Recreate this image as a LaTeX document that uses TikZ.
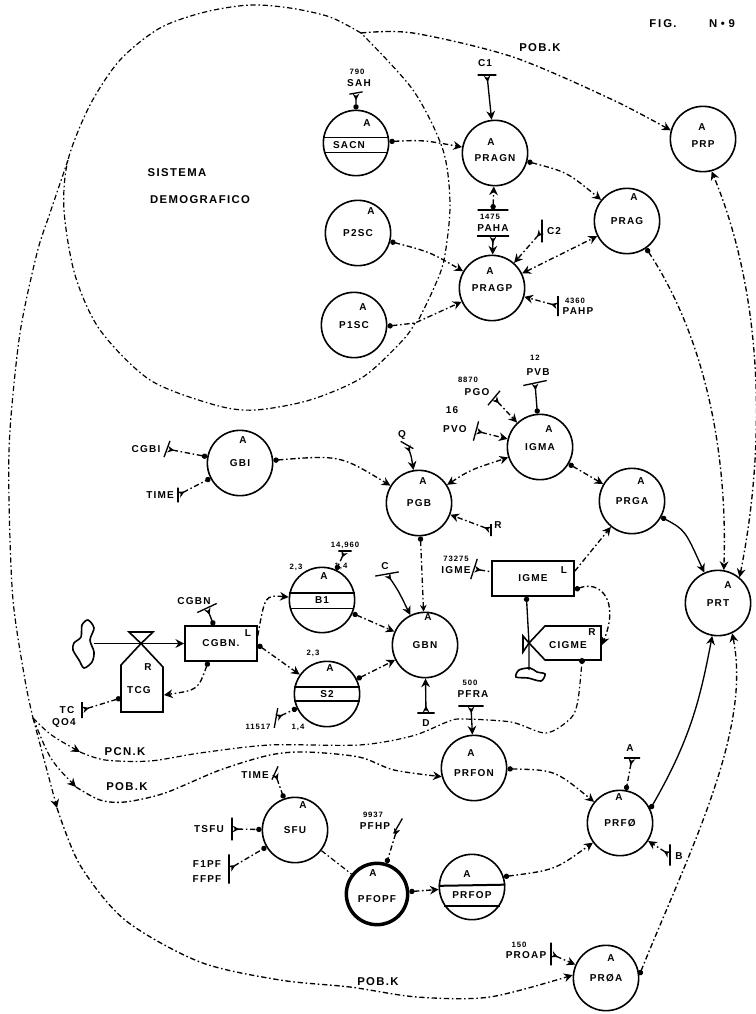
\documentclass[tikz,border=0pt]{standalone}
\usepackage{fontspec}
\setmainfont[LetterSpace=12]{Liberation Sans}
\usepackage{tikz}
\usetikzlibrary{arrows.meta}
\tikzset{
    var/.style={circle, draw, line width=1.2pt, minimum size=49pt, inner sep=0pt, font=\bfseries\fontsize{7.5}{9}\selectfont},
    low/.style={text height=13pt},
    lev/.style={rectangle, draw, line width=1.2pt, inner sep=0pt, font=\bfseries\fontsize{7.5}{9}\selectfont},
    txt/.style={inner sep=0pt, font=\bfseries\fontsize{7.5}{9}\selectfont},
    big/.style={inner sep=0pt, font=\bfseries\fontsize{8.5}{10}\selectfont},
    lbl/.style={inner sep=0pt, font=\bfseries\fontsize{7.5}{9}\selectfont},
    num/.style={inner sep=0pt, font=\bfseries\fontsize{5.8}{7}\selectfont},
    cbar/.style={draw, line width=1pt, minimum width=#1, minimum height=0pt, inner sep=0pt},
    sys/.style={line width=.9pt, dash pattern=on 4pt off 2pt on 1.2pt off 2pt},
    flow/.style={line width=1pt, dash pattern=on 4pt off 2pt on 1.2pt off 2pt, arrows={Circle[length=4pt]-Stealth[length=6.5pt,width=6.5pt]}},
    dflow/.style={flow, arrows={Stealth[length=6.5pt,width=6.5pt]-Stealth[length=6.5pt,width=6.5pt]}},
    cflow/.style={flow, arrows={Stealth[reversed,length=5pt,width=5pt]-Stealth[length=6.5pt,width=6.5pt]}},
    dflowend/.style={flow, arrows={Stealth[reversed,length=5pt,width=5pt]-Circle[length=4pt]}},
    sflow/.style={flow, solid},
    pipe/.style={line width=1.2pt}
}
\begin{document}
\begin{tikzpicture}[x=0.75pt, y=-0.75pt]
    \useasboundingbox (0,0) rectangle (756,1014);

    % Define nodes
    \node (fig) [big] at (663,24) {F\,I\,G.};
    \node (fign) [big] at (722,24) {N\,\,•\,\,9};
    \node (sis) [big] at (177,173) {SISTEMA};
    \node (dem) [big] at (200,200) {DEMOGRAFICO};

    \node (SACN) [var] at (356,143) {};
    \node (PRAGN) [var, low] at (495,153) {PRAGN};
    \node (PRP) [var, low] at (703,139) {PRP};
    \node (PRAG) [var] at (627,221) {PRAG};
    \node (P2SC) [var] at (358,233) {P2SC};
    \node (PRAGP) [var] at (492,288) {PRAGP};
    \node (P1SC) [var] at (354,325) {P1SC};
    \node (GBI) [var] at (240,463) {GBI};
    \node (PGB) [var] at (419,503) {PGB};
    \node (IGMA) [var] at (540,447) {IGMA};
    \node (PRGA) [var] at (632,501) {PRGA};
    \node (PRT) [var] at (718,603) {PRT};
    \node (GBN) [var] at (425,645) {GBN};
    \node (B1) [var] at (322,600) {B1};
    \node (S2) [var] at (327,694) {S2};
    \node (PRFON) [var, low] at (474,768) {PRFON};
    \node (SFU) [var] at (295,830) {SFU};
    \node (PFOPF) [var, line width=2.6pt, minimum size=46pt, low] at (377,894) {PFOPF};
    \node (PRFOP) [var] at (472,887) {};
    \node (PRFO) [var] at (620,823) {PRFØ};
    \node (PROA) [var] at (606,978) {PRØA};

    \node (aSACN) [txt] at (367,123) {A};
    \node (aPRAGN) [txt] at (491,142) {A};
    \node (aPRP) [txt] at (702,127) {A};
    \node (aPRAG) [txt] at (634,197) {A};
    \node (aP2SC) [txt] at (371,211) {A};
    \node (aPRAGP) [txt] at (490,271) {A};
    \node (aP1SC) [txt] at (363,307) {A};
    \node (aGBI) [txt] at (243,440) {A};
    \node (aPGB) [txt] at (423,481) {A};
    \node (aIGMA) [txt] at (549,429) {A};
    \node (aPRGA) [txt] at (641,481) {A};
    \node (aPRT) [txt] at (728,585) {A};
    \node (aGBN) [txt] at (428,617) {A};
    \node (aB1) [txt] at (324,576) {A};
    \node (aS2) [txt] at (330,668) {A};
    \node (aPRFON) [txt] at (471,753) {A};
    \node (aSFU) [txt] at (303,805) {A};
    \node (aPFOPF) [txt] at (373,873) {A};
    \node (aPRFOP) [txt] at (467,874) {A};
    \node (aPRFO) [txt] at (619,797) {A};
    \node (aPROA) [txt] at (611,958) {A};

    \node (tSACN) [txt] at (349,145) {SACN};
    \node (tPRFOP) [txt] at (472,895) {PRFOP};

    \node (CGBN) [lev, minimum width=54pt, minimum height=26pt] at (221,643.5) {CGBN.};
    \node (lCGBN) [txt] at (248,633) {L};
    \node (IGME) [lev, minimum width=61.5pt, minimum height=26pt] at (533,578.5) {IGME};
    \node (lIGME) [txt] at (564,570) {L};
    \node (TCG) [txt] at (139,690) {TCG};
    \node (rTCG) [txt] at (148,667) {R};
    \node (CIGME) [txt] at (568,645) {CIGME};
    \node (rCIGME) [txt] at (592,632) {R};

    % Constants
    \node (barC1) [cbar=14pt] at (487,75) {};
    \node (C1) [lbl] at (485,63) {C1};
    \node (barSAH) [cbar=10pt, rotate=10] at (356,93) {};
    \node (nSAH) [num] at (357,72) {790};
    \node (SAH) [lbl] at (359,83) {SAH};
    \node (barPAHAt) [cbar=23pt] at (493,210) {};
    \node (nPAHA) [num] at (490,217) {1475};
    \node (PAHA) [lbl] at (493,228) {PAHA};
    \node (barPAHAb) [cbar=24pt] at (493,236) {};
    \node (barC2) [cbar=17pt, rotate=90] at (542,231) {};
    \node (C2) [lbl] at (554,231) {C2};
    \node (barPAHP) [cbar=15pt, rotate=90] at (558,306) {};
    \node (nPAHP) [num] at (575,301) {4360};
    \node (PAHP) [lbl] at (578,311) {PAHP};
    \node (barCGBI) [cbar=13pt, rotate=70] at (167,449) {};
    \node (CGBI) [lbl] at (146,449) {CGBI};
    \node (barTIMEa) [cbar=11pt, rotate=90] at (178,495) {};
    \node (TIMEa) [lbl] at (160,495) {TIME};
    \node (barQ) [cbar=11pt, rotate=-30] at (407,445) {};
    \node (Q) [lbl] at (402,435) {Q};
    \node (barR) [cbar=9pt, rotate=90] at (491,530) {};
    \node (R) [lbl] at (498,525) {R};
    \node (barPGO) [cbar=14pt, rotate=50] at (494,398) {};
    \node (nPGO) [num] at (468,380) {8870};
    \node (PGO) [lbl] at (477,392) {PGO};
    \node (barPVO) [cbar=15pt, rotate=75] at (476,431) {};
    \node (nPVO) [lbl] at (452,410) {16};
    \node (PVO) [lbl] at (455,429) {PVO};
    \node (barPVB) [cbar=18pt, rotate=12] at (535,383) {};
    \node (nPVB) [num] at (535,358) {12};
    \node (PVB) [lbl] at (538,372) {PVB};
    \node (barIGME) [cbar=16pt, rotate=72] at (474,569) {};
    \node (nIGME) [num] at (456,559) {73275};
    \node (cIGME) [lbl] at (456,570) {IGME};
    \node (barC) [cbar=18pt, rotate=10] at (387,574) {};
    \node (C) [lbl] at (385,566) {C};
    \node (barD) [cbar=13pt] at (426,713) {};
    \node (D) [lbl] at (426,723) {D};
    \node (barB) [cbar=10pt] at (345,551) {};
    \node (nB1) [num] at (345,545) {14,960};
    \node (nB1b) [num] at (341,566) {1,4};
    \node (nB1a) [num] at (296,567) {2,3};
    \node (nS2a) [num] at (313,653) {2,3};
    \node (barS) [cbar=15pt, rotate=80] at (276,718) {};
    \node (nS2b) [num] at (258,727) {11517};
    \node (nS2c) [num] at (298,727) {1,4};
    \node (barCGBN) [cbar=16pt, rotate=25] at (207,608) {};
    \node (cCGBN) [lbl] at (194,601) {CGBN};
    \node (barTC) [cbar=12pt, rotate=90] at (82,710) {};
    \node (TC) [lbl] at (67,710) {TC};
    \node (QO4) [lbl] at (64,723) {QO4};
    \node (barPFRA) [cbar=19pt] at (471,706) {};
    \node (nPFRA) [num] at (470,683) {500};
    \node (PFRA) [lbl] at (473,694) {PFRA};
    \node (barTIMEb) [cbar=11pt, rotate=65] at (275,773) {};
    \node (TIMEb) [lbl] at (255,775) {TIME};
    \node (barTSFU) [cbar=17pt, rotate=90] at (232,829) {};
    \node (TSFU) [lbl] at (209,829) {TSFU};
    \node (barFP) [cbar=22pt, rotate=90] at (229,869) {};
    \node (FIPF) [lbl] at (207,864) {F1PF};
    \node (FFPF) [lbl] at (207,879) {FFPF};
    \node (barPFHP) [cbar=13pt, rotate=60] at (398,826) {};
    \node (nPFHP) [num] at (373,815) {9937};
    \node (PFHP) [lbl] at (375,826) {PFHP};
    \node (barA) [cbar=12pt] at (632,758) {};
    \node (cA) [lbl] at (630,748) {A};
    \node (barBB) [cbar=16pt, rotate=90] at (670,855) {};
    \node (cB) [lbl] at (679,856) {B};
    \node (barPROAP) [cbar=17pt, rotate=90] at (551,954) {};
    \node (nPROAP) [num] at (519,945) {150};
    \node (PROAP) [lbl] at (526,955) {PROAP};

    \node (pobTop) [big] at (540,48) {POB.K};
    \node (pcn) [big] at (125,752) {PCN.K};
    \node (pobLow) [big] at (127,787) {POB.K};
    \node (pobBot) [big] at (378,982) {POB.K};

    % Free ends
    \coordinate (sysR) at (361,33);
    \coordinate (sysL) at (68,160);
    \coordinate (sysK) at (415,323);
    \coordinate (sysT) at (419,319);
    \coordinate (junc) at (33,718);
    \coordinate (juncA) at (57,808);
    \coordinate (juncB) at (80,752);
    \coordinate (juncC) at (76,787);
    \coordinate (TCGr) at (164,695);
    \coordinate (TCGl) at (121,698);
    \coordinate (CIGMEr) at (602,645);
    \coordinate (CIGMEb) at (582,661);
    \coordinate (valveT) at (141,643.5);
    \coordinate (valveC) at (529,643);
    \coordinate (cloudT) at (94,643.5);
    \coordinate (cloudC) at (529,670);

    % Draw shapes
    \draw[pipe] (valveT) -- (121,665) -- (121,712) -- (163,712) -- (163,667) -- cycle;
    \draw[pipe] (valveT) -- (129,632) -- (153,632) -- cycle;
    \draw[pipe] (valveC) -- (545,626) -- (601,626) -- (601,660) -- (545,660) -- cycle;
    \draw[pipe] (valveC) -- (523,636) -- (523,652) -- cycle;
    \draw[pipe] plot[smooth cycle] coordinates {(88,620) (94,628) (90,640) (94,652) (92,662) (84,668) (79,660) (73,650) (74,643) (81,637) (82,625)};
    \draw[pipe] plot[smooth cycle] coordinates {(519,670) (530,668) (537,672) (545,674) (541,681) (528,678) (516,677)};
    \draw[line width=.9pt] (SACN.170) -- (SACN.10);
    \draw[line width=.9pt] (SACN.196) -- (SACN.344);
    \draw[line width=.9pt] (B1.168) -- (B1.12);
    \draw[line width=.9pt] (B1.195) -- (B1.345);
    \draw[line width=.9pt] (S2.168) -- (S2.12);
    \draw[line width=.9pt] (S2.192) -- (S2.348);
    \draw[line width=1.5pt] (PRFOP.178) -- (PRFOP.4);
    \draw[line width=1.2pt] (PRFOP.214) -- (PRFOP.326);

    % System boundary
    \draw[sys] plot[smooth] coordinates {(sysR) (330,17) (290,8) (250,5) (205,12) (160,28) (120,60) (90,105) (sysL) (64,210) (75,275) (100,330) (150,380) (215,405) (255,410) (310,400) (363,377) (403,340) (sysK)};
    \draw[sys] plot[smooth] coordinates {(sysT) (433,290) (444,260) (450,205) (443,150) (413,90) (sysR)};
    \draw[sys] plot[smooth] coordinates {(sysL) (50,213) (37,253) (20,333) (10,430) (9,500) (13,600) (25,680) (junc)};

    % Draw edges
    \draw[flow, arrows={-Stealth[length=6.5pt,width=6.5pt]}] plot[smooth] coordinates {(sysR) (413,33) (513,57) (613,100) (PRP.165)};
    \draw[sys, arrows={-Stealth[length=6.5pt,width=6.5pt]}] (junc) -- (juncA);
    \draw[flow, arrows={-Stealth[length=6.5pt,width=6.5pt]}] plot[smooth] coordinates {(juncA) (80,865) (125,920) (200,962) (280,980) (350,987) (417,997) (490,997) (PROA.175)};
    \draw[sys, arrows={-Stealth[length=6.5pt,width=6.5pt]}] (junc) .. controls (50,735) .. (juncB);
    \draw[sys] plot[smooth] coordinates {(juncB) (105,760) (150,761) (200,753) (270,745) (359,745) (412,736) (447,722) (461,719) (511,722) (546,733) (571,718) (578,700) (CIGMEb)};
    \fill (CIGMEb) circle (3);
    \draw[sys, arrows={-Stealth[length=6.5pt,width=6.5pt]}] (junc) .. controls (50,760) .. (juncC);
    \draw[flow, arrows={-Stealth[length=6.5pt,width=6.5pt]}] plot[smooth] coordinates {(juncC) (100,800) (125,802) (165,793) (220,770) (270,755) (306,752) (359,757) (394,770) (PRFON.195)};

    \draw[flow] (SACN) .. controls (423,140) .. (PRAGN);
    \draw[flow] (PRAGN) .. controls (567,172) .. (PRAG);
    \draw[flow] (P2SC) .. controls (430,252) .. (PRAGP);
    \draw[flow] (P1SC.-2) -- (sysK) -- (PRAGP);
    \draw[dflow] (PRAGP) .. controls (560,255) .. (PRAG);
    \draw[cflow, solid] (barC1) -- (PRAGN);
    \draw[dflowend] (barSAH) -- (SACN);
    \draw[flow] (barPAHAt) -- (PRAGN);
    \draw[cflow, solid] (barPAHAb) -- (PRAGP);
    \draw[cflow] (barC2) -- (PRAGP);
    \draw[cflow] (barPAHP) -- (PRAGP);
    \draw[flow] (PRAG.-55) .. controls (700,330) and (728,440) .. (PRT.80);
    \draw[dflow] (PRT.50) .. controls (765,450) and (765,300) .. (PRP.-75);

    \draw[dflowend] (barCGBI) -- (GBI);
    \draw[dflowend] (barTIMEa) -- (GBI);
    \draw[flow] (GBI) .. controls (340,455) .. (PGB);
    \draw[dflow] (PGB) .. controls (470,470) .. (IGMA);
    \draw[cflow, solid] (barQ) .. controls (411,455) .. (PGB);
    \draw[cflow] (barR) -- (PGB);
    \draw[cflow] (barPGO) -- (IGMA);
    \draw[cflow] (barPVO) -- (IGMA);
    \draw[dflowend, solid] (barPVB) -- (IGMA);
    \draw[flow] (IGMA) -- (PRGA);
    \draw[cflow, arrows={-Stealth[length=6.5pt,width=6.5pt]}] (IGME.10) -- (PRGA);
    \draw[flow, solid] (PRGA) .. controls (685,530) .. (PRT);
    \draw[cflow, arrows={Stealth[reversed,length=5pt,width=5pt]-}] (barIGME) -- (IGME);
    \draw[flow] (IGME.-15) .. controls (600,580) and (620,600) .. (CIGMEr);
    \draw[flow, solid, arrows={Circle[length=4pt]-}] (IGME.-110) -- (valveC) -- (cloudC);
    \draw[flow, arrows={Stealth[length=5pt,width=5pt]-Circle[length=4pt]}] (GBN) -- (PGB);
    \draw[cflow, solid] (barC) .. controls (398,590) .. (GBN);
    \draw[flow] (B1) -- (GBN);
    \draw[flow] (S2) -- (GBN);
    \draw[cflow, solid] (barD) -- (GBN);
    \draw[flow, arrows={-Stealth[length=6.5pt,width=6.5pt]}] (CGBN.12) .. controls (265,595) .. (B1);
    \draw[flow] (CGBN.-2) -- (S2);
    \draw[dflowend] (barB) -- (B1);
    \draw[dflowend] (barS) -- (S2);
    \draw[dflowend, solid] (barCGBN) -- (CGBN);
    \draw[flow, solid, arrows={-Stealth[length=6.5pt,width=6.5pt]}] (cloudT) -- (CGBN.west);
    \draw[flow] (CGBN.-125) .. controls (198,690) .. (TCGr);
    \draw[flow, arrows={Circle[length=4pt]-Stealth[reversed,length=5pt,width=5pt]}] (TCGl) -- (barTC);

    \draw[cflow, solid] (barPFRA) -- (PRFON);
    \draw[flow] (PRFON) .. controls (555,770) .. (PRFO);
    \draw[flow] (PRFOP.18) .. controls (555,870) .. (PRFO);
    \draw[flow] (PFOPF) -- (PRFOP);
    \draw[sys] (SFU) -- (PFOPF);
    \draw[dflowend] (barTIMEb) -- (SFU);
    \draw[dflowend] (barTSFU) -- (SFU);
    \draw[dflowend] (barFP) -- (SFU);
    \draw[dflowend] (barPFHP) -- (PFOPF);
    \draw[dflowend] (barA) -- (PRFO);
    \draw[cflow] (barBB) -- (PRFO);
    \draw[cflow] (barPROAP) -- (PROA);
    \draw[sflow] (PRFO.25) .. controls (690,740) and (700,700) .. (PRT.-100);
    \draw[flow] (PROA.5) .. controls (690,850) and (752,730) .. (PRT.-65);
\end{tikzpicture}
\end{document}
